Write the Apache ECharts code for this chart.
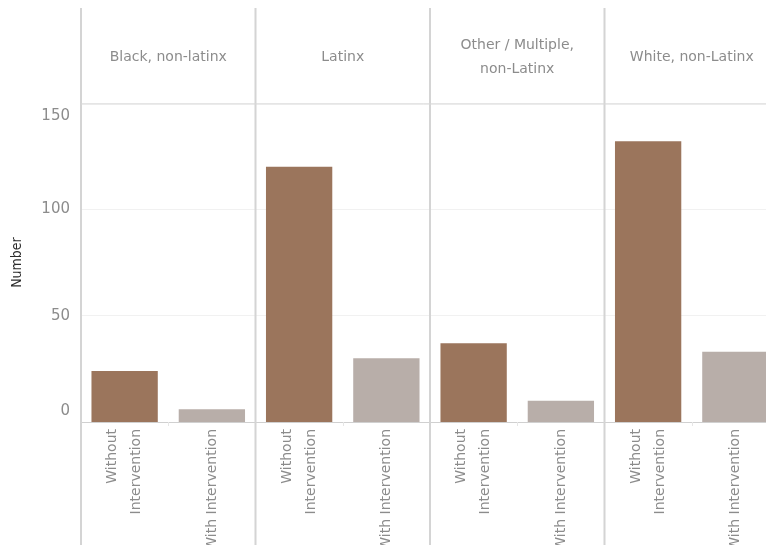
<!DOCTYPE html>
<html>
<head>
<meta charset="utf-8">
<script src="https://cdn.jsdelivr.net/npm/echarts@6/dist/echarts.min.js"></script>
<style>html,body{margin:0;padding:0;background:#fff}#c{width:766px;height:545px}</style>
</head>
<body>
<div id="c"></div>
<script>
const groups = ['Black, non-latinx', 'Latinx', 'Other / Multiple,\nnon-Latinx', 'White, non-Latinx'];
const categories = ['Without\nIntervention', 'With Intervention'];
const withoutIntervention = [24, 120, 37, 132];
const withIntervention = [6, 30, 10, 33];
const yTicks = [0, 50, 100, 150];

const FONT = '"DejaVu Sans", "Open Sans", sans-serif';
const chart = echarts.init(document.getElementById('c'));
const L0 = 81, PW = 174.5, TOP = 103, BOTTOM = 123, W = 766;
const colors = ['#9b755c', '#b8aea9'];
const LABEL = '#8c8c8c';

const grids = [], xAxes = [], yAxes = [], series = [], graphics = [];
groups.forEach((g, i) => {
  grids.push({left: L0 + i * PW, width: PW, top: TOP, bottom: BOTTOM,
    containLabel: false, outerBoundsMode: 'none'});
  xAxes.push({
    type: 'category', gridIndex: i, data: categories,
    axisLine: {show: true, lineStyle: {color: '#d0d0d0', width: 1}},
    axisTick: {show: true, length: 4, lineStyle: {color: '#e6e6e6'}},
    axisLabel: {interval: 0, rotate: 90, color: LABEL, fontFamily: FONT, fontSize: 14, margin: 7, lineHeight: 24}
  });
  yAxes.push({
    type: 'value', gridIndex: i, min: 0, max: 150, interval: 50,
    name: i === 0 ? 'Number' : '', nameLocation: 'middle', nameGap: 57,
    nameTextStyle: {color: '#2b2b2b', fontFamily: '"DejaVu Sans Condensed", "DejaVu Sans", sans-serif', fontSize: 14},
    axisLine: {show: false}, axisTick: {show: false},
    splitLine: {show: true, lineStyle: {color: '#f1f1f1', width: 1}},
    axisLabel: {
      show: i === 0, color: LABEL, fontFamily: FONT, fontSize: 15, margin: 11,
      formatter: v => v === 0 ? '{b|' + v + '}' : (v === 150 ? '{t|' + v + '}' : '{m|' + v + '}'),
      rich: {
        b: {padding: [0, 0, 22, 0], fontSize: 15, color: LABEL, fontFamily: FONT},
        t: {padding: [26, 0, 0, 0], fontSize: 15, color: LABEL, fontFamily: FONT},
        m: {fontSize: 15, color: LABEL, fontFamily: FONT}
      }
    }
  });
  series.push({
    type: 'bar', xAxisIndex: i, yAxisIndex: i, barCategoryGap: '24%',
    data: [
      {value: withoutIntervention[i], itemStyle: {color: colors[0]}},
      {value: withIntervention[i], itemStyle: {color: colors[1]}}
    ],
    silent: true, animation: false
  });
  graphics.push({
    type: 'text', x: L0 + i * PW + PW / 2, y: 57, silent: true,
    style: {
      text: g, align: 'center', verticalAlign: 'middle',
      fill: LABEL, fontSize: 14, fontFamily: FONT, lineHeight: 24
    }
  });
});
[0, 1, 2, 3].forEach(i => {
  graphics.push({type: 'line', silent: true, z: 10,
    shape: {x1: L0 + i * PW, y1: 8, x2: L0 + i * PW, y2: 545},
    style: {stroke: '#d4d4d4', lineWidth: 2}});
});
graphics.push({type: 'line', silent: true, z: 10,
  shape: {x1: L0, y1: 104, x2: 766, y2: 104},
  style: {stroke: '#d8d8d8', lineWidth: 1}});

chart.setOption({
  animation: false,
  backgroundColor: '#fff',
  grid: grids, xAxis: xAxes, yAxis: yAxes, series: series,
  graphic: graphics
});
</script>
</body>
</html>
